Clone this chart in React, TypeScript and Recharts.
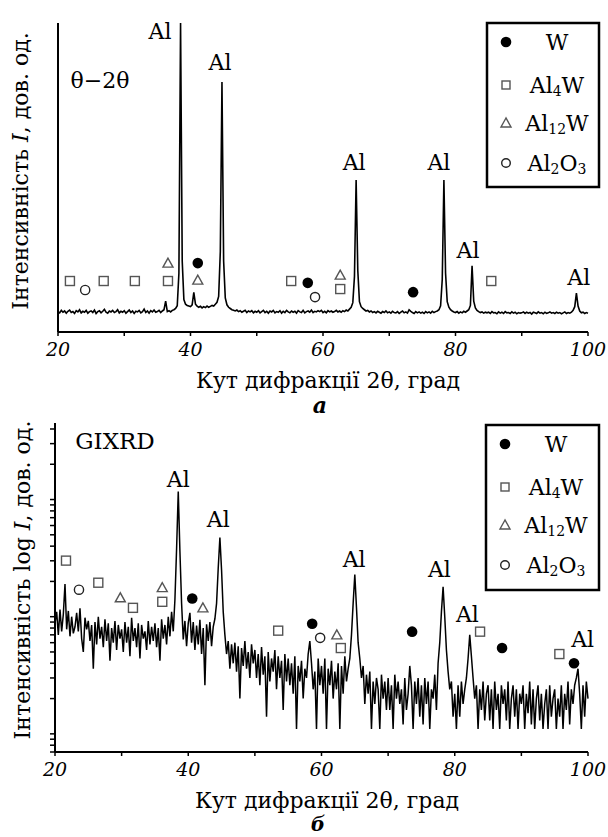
import React from 'react';
import { ComposedChart, Line, Scatter, XAxis, YAxis } from 'recharts';

const FONT = '"DejaVu Serif", serif';

// scans are sampled from 20° to 100° every 0.25°
const SCAN_START = 20;
const SCAN_STEP = 0.25;

// (a) θ−2θ scan, linear intensity (arb. units)
const scanA = [
  66, 62, 70, 64, 68, 61, 67, 71, 63, 66, 60, 69, 65, 72, 62, 67, 64, 70, 61, 66,
  68, 63, 71, 60, 66, 69, 62, 67, 73, 64, 61, 68, 65, 70, 63, 66, 72, 62, 67, 64,
  69, 61, 66, 71, 63, 68, 60, 67, 65, 70, 62, 66, 74, 63, 68, 61, 69, 65, 71, 64,
  66, 70, 63, 68, 72, 100, 66, 69, 65, 70, 72, 76, 85, 190, 1000, 230, 105, 90, 86, 84,
  82, 88, 128, 90, 84, 80, 83, 78, 82, 79, 84, 80, 83, 86, 84, 90, 96, 115, 260, 809,
  230, 110, 88, 80, 76, 72, 70, 68, 71, 66, 69, 64, 67, 70, 63, 68, 65, 69, 62, 67,
  64, 69, 62, 66, 70, 63, 67, 61, 68, 65, 70, 62, 66, 64, 69, 61, 67, 63, 70, 65,
  62, 68, 64, 67, 61, 69, 65, 63, 70, 62, 66, 68, 64, 71, 63, 67, 65, 69, 66, 70,
  63, 67, 62, 69, 65, 68, 64, 66, 70, 65, 68, 64, 69, 66, 71, 68, 74, 80, 95, 180,
  492, 200, 98, 82, 76, 72, 68, 70, 65, 68, 63, 66, 62, 67, 64, 61, 66, 63, 68, 62,
  65, 61, 67, 63, 62, 66, 60, 64, 68, 62, 65, 61, 72, 67, 63, 60, 66, 62, 65, 61,
  64, 60, 66, 62, 65, 61, 67, 63, 66, 68, 72, 85, 170, 492, 190, 98, 80, 72, 68, 65,
  63, 66, 61, 65, 62, 67, 64, 68, 72, 86, 214, 100, 78, 70, 66, 63, 65, 61, 64, 62,
  64, 60, 66, 62, 63, 59, 65, 61, 64, 60, 66, 62, 63, 60, 65, 61, 64, 59, 63, 61,
  62, 65, 60, 64, 61, 63, 58, 64, 62, 60, 65, 61, 63, 59, 64, 60, 62, 65, 61, 63,
  60, 64, 61, 63, 59, 62, 65, 60, 63, 61, 64, 70, 82, 126, 84, 68, 62, 64, 60, 63,
  61,
];

// (b) GIXRD scan, counts on log axis
const scanB = [
  88, 110, 70, 115, 75, 105, 190, 78, 112, 68, 100, 72, 82, 108, 75, 118, 65, 50, 98, 78,
  92, 62, 85, 36, 90, 58, 100, 65, 82, 55, 95, 62, 88, 42, 80, 60, 92, 52, 85, 65,
  78, 50, 90, 60, 82, 46, 98, 62, 80, 55, 88, 44, 85, 65, 75, 52, 92, 58, 82, 62,
  88, 55, 80, 42, 95, 65, 85, 58, 100, 68, 110, 75, 140, 380, 1170, 360, 130, 64, 92, 56,
  88, 108, 60, 90, 52, 84, 58, 94, 48, 80, 26, 86, 62, 90, 56, 82, 96, 130, 260, 474,
  250, 110, 70, 48, 62, 36, 58, 40, 60, 34, 56, 20, 54, 38, 62, 36, 50, 30, 58, 40,
  52, 30, 48, 26, 55, 32, 46, 14, 50, 28, 44, 34, 52, 24, 46, 30, 42, 16, 48, 28,
  44, 26, 40, 22, 46, 11, 38, 28, 42, 20, 36, 30, 48, 62, 40, 24, 34, 11, 44, 26,
  38, 22, 44, 11, 36, 26, 42, 20, 34, 24, 40, 11, 38, 22, 46, 28, 36, 44, 70, 130,
  229, 120, 60, 44, 30, 38, 18, 32, 22, 34, 11, 28, 18, 30, 24, 11, 32, 20, 28, 16,
  30, 16, 26, 11, 32, 20, 28, 18, 24, 12, 30, 16, 22, 38, 26, 11, 28, 18, 30, 14,
  26, 12, 30, 18, 28, 11, 24, 20, 32, 16, 40, 60, 110, 180, 100, 52, 34, 24, 28, 14,
  22, 11, 26, 14, 28, 18, 24, 30, 44, 70, 46, 30, 20, 26, 11, 24, 16, 28, 13, 22,
  26, 13, 24, 11, 28, 16, 22, 11, 26, 18, 24, 13, 28, 11, 20, 26, 14, 24, 11, 22,
  18, 26, 11, 22, 15, 28, 12, 24, 11, 20, 26, 13, 22, 11, 18, 24, 11, 26, 14, 20,
  24, 11, 20, 14, 26, 11, 22, 16, 28, 12, 24, 18, 26, 30, 36, 22, 11, 26, 14, 28,
  20,
];

// phase markers: [2θ, height where the symbol sits]
const wMarksA = [[41.1, 223], [57.7, 159], [73.6, 129]];
const al4wMarksA = [[21.8, 165], [26.9, 165], [31.6, 165], [36.6, 165], [55.2, 165], [62.6, 139], [85.4, 165]];
const al12wMarksA = [[36.6, 223], [41.1, 168], [62.6, 184]];
const al2o3MarksA = [[24.1, 136], [58.8, 113]];
const alLabelsA = [[35.4, 971], [44.45, 871], [64.7, 547], [77.5, 547], [81.9, 265], [98.6, 175]];

const wMarksB = [[40.6, 143], [58.6, 87], [73.6, 74.5], [87.1, 54], [97.9, 40]];
const al4wMarksB = [[21.65, 301], [26.5, 195], [31.7, 119], [36.1, 134], [53.5, 76], [62.9, 54], [83.8, 74.5], [95.7, 48]];
const al12wMarksB = [[29.8, 145], [36.1, 177], [42.2, 119], [62.3, 70]];
const al2o3MarksB = [[23.6, 170], [59.8, 66]];
const alLabelsB = [[38.5, 1483], [44.5, 675], [64.9, 307], [77.7, 252], [81.9, 104], [99.2, 64]];

const X_TICKS = [20, 30, 40, 50, 60, 70, 80, 90, 100];
const LOG_TICKS = [
  7, 8, 9, 10, 20, 30, 40, 50, 60, 70, 80, 90, 100,
  200, 300, 400, 500, 600, 700, 800, 900, 1000, 2000, 3000, 4000,
];

const toRows = (vals: number[]) => vals.map((v, i) => ({ a: SCAN_START + i * SCAN_STEP, v }));
const toPts = (pairs: number[][]) => pairs.map(([a, v]) => ({ a, v }));

const dataA = toRows(scanA);
const dataB = toRows(scanB);

const squareShape = (p: any) => (
  <rect x={p.cx - 4.5} y={p.cy - 4.5} width={9} height={9} fill="#fff" stroke="#555" strokeWidth={1.4} />
);
const triangleShape = (p: any) => (
  <polygon
    points={`${p.cx},${p.cy - 5} ${p.cx - 5},${p.cy + 4} ${p.cx + 5},${p.cy + 4}`}
    fill="#fff"
    stroke="#555"
    strokeWidth={1.4}
  />
);
const ringShape = (p: any) => <circle cx={p.cx} cy={p.cy} r={4.6} fill="#fff" stroke="#222" strokeWidth={1.4} />;
const dotShape = (p: any) => <circle cx={p.cx} cy={p.cy} r={5.3} fill="#000" />;
const alShape = (p: any) => (
  <text x={p.cx} y={p.cy} textAnchor="middle" dominantBaseline="central" fontFamily={FONT} fontSize={22} fill="#000">
    Al
  </text>
);

const XTick = (props: any) => {
  const { x, y, payload } = props;
  if (payload.value % 20 !== 0) return <g />;
  return (
    <text x={x} y={y} dy={18} textAnchor="middle" fontFamily={FONT} fontStyle="italic" fontSize={19} fill="#000">
      {payload.value}
    </text>
  );
};

const NoLabel = () => <g />;

const axisStyle = { stroke: '#000', strokeWidth: 2 };

function xAxis() {
  return (
    <XAxis
      dataKey="a"
      type="number"
      domain={[20, 100]}
      ticks={X_TICKS}
      interval={0}
      height={30}
      axisLine={axisStyle}
      tickLine={{ stroke: '#000', strokeWidth: 1.5 }}
      tickSize={4}
      tick={<XTick />}
    />
  );
}

function markers(w: number[][], al4w: number[][], al12w: number[][], al2o3: number[][], labels: number[][]) {
  return [
    <Scatter key="al4w" data={toPts(al4w)} dataKey="v" shape={squareShape} isAnimationActive={false} />,
    <Scatter key="al12w" data={toPts(al12w)} dataKey="v" shape={triangleShape} isAnimationActive={false} />,
    <Scatter key="al2o3" data={toPts(al2o3)} dataKey="v" shape={ringShape} isAnimationActive={false} />,
    <Scatter key="w" data={toPts(w)} dataKey="v" shape={dotShape} isAnimationActive={false} />,
    <Scatter key="al" data={toPts(labels)} dataKey="v" shape={alShape} isAnimationActive={false} />,
  ];
}

function LegendBox({ x, y, w, h }: { x: number; y: number; w: number; h: number }) {
  const sx = x + 19;
  const tx = x + 70;
  const rows = [y + 19, y + 62, y + 100, y + 140];
  return (
    <g fontFamily={FONT} fontSize={22} fill="#000">
      <rect x={x} y={y} width={w} height={h} fill="#fff" stroke="#000" strokeWidth={2.5} />
      <circle cx={sx} cy={rows[0]} r={5.3} fill="#000" />
      <text x={tx} y={rows[0]} textAnchor="middle" dominantBaseline="central">W</text>
      <rect x={sx - 4} y={rows[1] - 4} width={8} height={8} fill="#fff" stroke="#555" strokeWidth={1.4} />
      <text x={tx} y={rows[1]} textAnchor="middle" dominantBaseline="central">
        Al<tspan dy={6} fontSize={14}>4</tspan><tspan dy={-6}>W</tspan>
      </text>
      <polygon
        points={`${sx},${rows[2] - 5} ${sx - 5},${rows[2] + 4} ${sx + 5},${rows[2] + 4}`}
        fill="#fff"
        stroke="#555"
        strokeWidth={1.4}
      />
      <text x={tx} y={rows[2]} textAnchor="middle" dominantBaseline="central">
        Al<tspan dy={6} fontSize={14}>12</tspan><tspan dy={-6}>W</tspan>
      </text>
      <circle cx={sx} cy={rows[3]} r={4.3} fill="#fff" stroke="#222" strokeWidth={1.4} />
      <text x={tx} y={rows[3]} textAnchor="middle" dominantBaseline="central">
        Al<tspan dy={6} fontSize={14}>2</tspan><tspan dy={-6}>O</tspan><tspan dy={6} fontSize={14}>3</tspan>
      </text>
    </g>
  );
}

export default function App() {
  return (
    <div style={{ position: 'absolute', left: 0, top: 0, width: 608, height: 837, background: '#fff' }}>
      <div style={{ position: 'absolute', left: 0, top: 0 }}>
        <ComposedChart width={608} height={415} data={dataA} margin={{ top: 23, right: 20, bottom: 53, left: 57 }}>
          {xAxis()}
          <YAxis
            dataKey="v"
            type="number"
            domain={[0, 1000]}
            width={1}
            tick={false}
            tickLine={false}
            axisLine={axisStyle}
          />
          <Line type="linear" dataKey="v" stroke="#000" strokeWidth={1.6} dot={false} isAnimationActive={false} />
          {markers(wMarksA, al4wMarksA, al12wMarksA, al2o3MarksA, alLabelsA)}
        </ComposedChart>
      </div>
      <div style={{ position: 'absolute', left: 0, top: 415 }}>
        <ComposedChart width={608} height={422} data={dataB} margin={{ top: 8, right: 20, bottom: 55, left: 54 }}>
          {xAxis()}
          <YAxis
            dataKey="v"
            type="number"
            scale="log"
            domain={[7, 4500]}
            ticks={LOG_TICKS}
            interval={0}
            width={1}
            tick={<NoLabel />}
            tickSize={5}
            tickLine={{ stroke: '#000', strokeWidth: 1.5 }}
            axisLine={axisStyle}
          />
          <Line type="linear" dataKey="v" stroke="#000" strokeWidth={1.5} dot={false} isAnimationActive={false} />
          {markers(wMarksB, al4wMarksB, al12wMarksB, al2o3MarksB, alLabelsB)}
        </ComposedChart>
      </div>
      <svg width={608} height={837} style={{ position: 'absolute', left: 0, top: 0, pointerEvents: 'none' }}>
        <g fontFamily={FONT} fontSize={22} fill="#000">
          <text x={100} y={80} textAnchor="middle" dominantBaseline="central">θ−2θ</text>
          <text transform="translate(20,171) rotate(-90)" textAnchor="middle" dominantBaseline="central">
            Інтенсивність <tspan fontStyle="italic">I</tspan>, дов. од.
          </text>
          <text x={328} y={380} textAnchor="middle" dominantBaseline="central">Кут дифракції 2θ, град</text>
          <text x={320} y={405} textAnchor="middle" dominantBaseline="central" fontStyle="italic" fontWeight="bold">а</text>

          <text x={115} y={441} textAnchor="middle" dominantBaseline="central" fontSize={23}>GIXRD</text>
          <text transform="translate(22,580) rotate(-90)" textAnchor="middle" dominantBaseline="central">
            Інтенсивність log <tspan fontStyle="italic">I</tspan>, дов. од.
          </text>
          <text x={327} y={800} textAnchor="middle" dominantBaseline="central">Кут дифракції 2θ, град</text>
          <text x={318} y={824} textAnchor="middle" dominantBaseline="central" fontStyle="italic" fontWeight="bold" fontSize={20}>б</text>
        </g>
        <LegendBox x={487} y={23} w={112} h={164} />
        <LegendBox x={486} y={425} w={113} h={165} />
      </svg>
    </div>
  );
}
